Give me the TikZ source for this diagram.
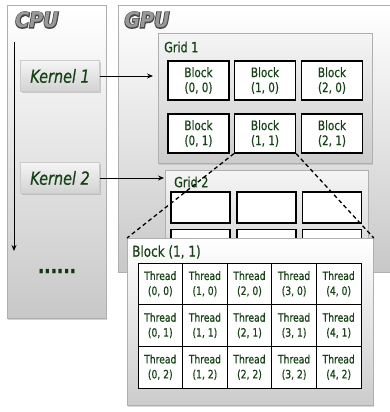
\documentclass[tikz,border=0pt]{standalone}
\usepackage{fontspec}
\setmainfont{DejaVu Sans}[FakeStretch=0.8, FakeBold=0.6]
\newfontfamily\headfont{DejaVu Sans Bold Oblique}[FakeStretch=0.9]
\newfontfamily\headfontthick{DejaVu Sans Bold Oblique}[FakeStretch=0.9, FakeBold=9]
\usetikzlibrary{arrows.meta,shadows}
\definecolor{txtgreen}{RGB}{22,66,22}
\definecolor{panelline}{RGB}{175,175,175}
\definecolor{panelbot}{RGB}{200,200,200}
\tikzset{
  panel/.style={draw=panelline, line width=0.8pt, top color=white, bottom color=panelbot, anchor=north west, inner sep=0pt},
  kernbox/.style={minimum width=79pt, minimum height=31pt, top color=gray!8, bottom color=gray!35, draw=gray!40, line width=0.3pt,
    drop shadow={shadow xshift=1pt, shadow yshift=-1.5pt, opacity=0.35}, font=\fontsize{18}{18}\selectfont\itshape, text=txtgreen},
  blockbox/.style={draw=black, line width=1.3pt, fill=white, minimum width=61pt, minimum height=39pt, inner sep=0pt,
    align=center, font=\fontsize{13}{15}\selectfont, text=txtgreen},
  emptyblock/.style={draw=black, line width=1.3pt, fill=white, minimum width=59pt, minimum height=31pt, inner sep=0pt},
  threadcell/.style={draw=black, line width=1pt, fill=white, minimum width=44.6pt, minimum height=41.7pt, inner sep=0pt,
    align=center, font=\fontsize{11.5}{15}\selectfont, text=txtgreen},
  lbl/.style={anchor=west, inner sep=0pt, text=txtgreen},
  headrim/.style={inner sep=0pt, text=black!72, font=\headfontthick\fontsize{21}{21}\selectfont},
  headfill/.style={inner sep=0pt, text=black!40, font=\headfont\fontsize{21}{21}\selectfont},
  flow/.style={-{Stealth[length=6pt,width=5pt]}, line width=0.9pt},
  zoomline/.style={dashed, dash pattern=on 4pt off 3pt, line width=1.3pt},
}
\begin{document}
\begin{tikzpicture}[x=1pt,y=-1pt]
\useasboundingbox[fill=white] (0,0) rectangle (389,412);
% panels
\node[panel, minimum width=99pt, minimum height=313pt, drop shadow={shadow xshift=1pt, shadow yshift=-2pt, opacity=0.35}] (cpu) at (7,5) {};
\node[panel, minimum width=290pt, minimum height=267pt] (gpu) at (118,5) {};
\node[headrim] (cpurim) at (37,20) {CPU};
\node[headfill] (cpulbl) at (cpurim) {CPU};
\node[headrim] (gpurim) at (147,20) {GPU};
\node[headfill] (gpulbl) at (gpurim) {GPU};
% cpu timeline
\coordinate (tlstart) at (14,42);
\coordinate (tlend) at (14,251);
\draw[flow] (tlstart) -- (tlend);
\node[kernbox] (k1) at (60,76) {Kernel 1};
\node[kernbox] (k2) at (60,178) {Kernel 2};
\node[anchor=base, text=txtgreen!80!black, font=\fontsize{21}{21}\selectfont\bfseries] (dots) at (57,273) {......};
% grid 1
\node[panel, minimum width=214pt, minimum height=130pt, top color=gray!8, bottom color=gray!40, drop shadow={shadow xshift=1pt, shadow yshift=-1.5pt, opacity=0.25}] (grid1) at (158,33) {};
\node[lbl, font=\fontsize{14}{14}\selectfont] (g1lbl) at (164,47) {Grid 1};
\foreach \c/\x in {0/198.5,1/265,2/332}{
  \node[blockbox] (b\c0) at (\x,80.5) {Block\\(\c, 0)};
  \node[blockbox] (b\c1) at (\x,133.5) {Block\\(\c, 1)};
}
% grid 2
\node[panel, minimum width=203pt, minimum height=100pt, top color=gray!8, bottom color=gray!35] (grid2) at (165,170) {};
\node[lbl, font=\fontsize{14}{14}\selectfont] (g2lbl) at (174,182) {Grid 2};
\foreach \c/\x in {0/200.5,1/266.5,2/332}{
  \node[emptyblock] (e\c0) at (\x,207.5) {};
  \node[emptyblock] (e\c1) at (\x,245) {};
}
% kernel arrows
\draw[flow, shorten >=5pt] (k1.east) -- (k1.east -| grid1.west);
\draw[flow, shorten >=1pt] (k2.east) -- (k2.east -| grid2.west);
% block (1,1) zoom
\node[panel, minimum width=246pt, minimum height=167pt, top color=white, bottom color=gray!40,
  drop shadow={shadow xshift=1pt, shadow yshift=-1.5pt, opacity=0.3}] (bpanel) at (127,238) {};
\draw[zoomline] (b11.south west) -- (bpanel.north west);
\draw[zoomline] (b11.south east) -- (bpanel.north east);
\node[lbl, font=\fontsize{15}{15}\selectfont] (bplbl) at (132,252) {Block (1, 1)};
\foreach \c in {0,...,4}{
  \foreach \r in {0,1,2}{
    \node[threadcell] (t\c\r) at ({138+22.3+44.6*\c},{263+20.85+41.7*\r}) {Thread\\(\c, \r)};
  }
}
\end{tikzpicture}
\end{document}
